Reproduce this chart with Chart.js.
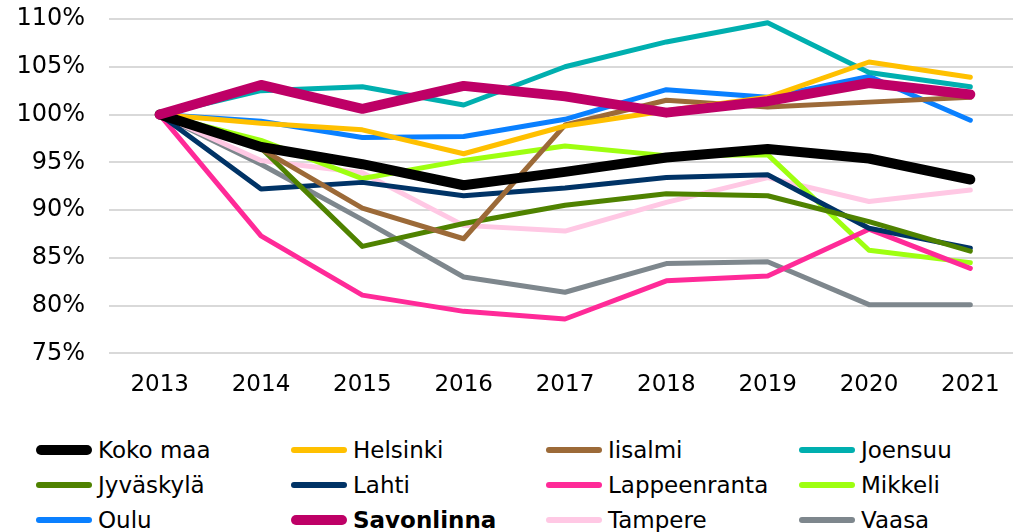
<!DOCTYPE html>
<html>
<head>
<meta charset="utf-8">
<script src="https://cdn.jsdelivr.net/npm/chart.js@4"></script>
<style>
    html, body { margin: 0; padding: 0; background: #fff; overflow: hidden; }
    #wrap { position: absolute; left: 0; top: 0; width: 1021px; height: 417px; }
    #legend { position: absolute; left: 0; top: 432px; width: 1013px; font-family: "DejaVu Sans", Verdana, sans-serif; font-size: 23px; color: #000; }
    .item { position: absolute; height: 35px; display: flex; align-items: center; white-space: nowrap; }
    .swatch { width: 56px; border-radius: 6px; margin-right: 6px; }
</style>
</head>
<body>
<div id="wrap"><canvas id="lineChart"></canvas></div>
<div id="legend"></div>
<script>
// Index of some price level, 2013 = 100 %

const years = ['2013', '2014', '2015', '2016', '2017', '2018', '2019', '2020', '2021'];

const kokoMaa      = [100, 96.6, 94.8, 92.6, 94.0, 95.5, 96.4, 95.4, 93.2];
const helsinki     = [100, 99.1, 98.4, 95.9, 98.8, 100.4, 101.8, 105.5, 103.9];
const iisalmi      = [100, 96.4, 90.2, 87.0, 98.9, 101.5, 100.8, 101.3, 101.8];
const joensuu      = [100, 102.5, 102.9, 101.0, 105.0, 107.6, 109.6, 104.4, 102.9];
const jyvaskyla    = [100, 96.5, 86.2, 88.6, 90.5, 91.7, 91.5, 88.8, 85.7];
const lahti        = [100, 92.2, 92.9, 91.5, 92.3, 93.4, 93.7, 88.1, 86.0];
const lappeenranta = [100, 87.3, 81.1, 79.4, 78.6, 82.6, 83.1, 88.0, 83.9];
const mikkeli      = [100, 97.3, 93.3, 95.2, 96.7, 95.7, 95.8, 85.8, 84.5];
const oulu         = [100, 99.3, 97.6, 97.7, 99.5, 102.6, 101.8, 104.0, 99.4];
const savonlinna   = [100, 103.1, 100.6, 103.0, 101.9, 100.2, 101.4, 103.3, 102.1];
const tampere      = [100, 95.2, 93.9, 88.4, 87.8, 90.8, 93.4, 90.9, 92.1];
const vaasa        = [100, 94.8, 89.0, 83.0, 81.4, 84.4, 84.6, 80.1, 80.1];

const seriesNames = ['Koko maa', 'Helsinki', 'Iisalmi', 'Joensuu', 'Jyväskylä', 'Lahti',
    'Lappeenranta', 'Mikkeli', 'Oulu', 'Savonlinna', 'Tampere', 'Vaasa'];
const seriesData = [kokoMaa, helsinki, iisalmi, joensuu, jyvaskyla, lahti,
    lappeenranta, mikkeli, oulu, savonlinna, tampere, vaasa];
const seriesColors = ['#000000', '#FFC000', '#9C6A38', '#00AFAF', '#4F8200', '#003366',
    '#FF2A98', '#9EFF10', '#0A80FF', '#BE0066', '#FFC8E4', '#7E878D'];

const yTicks = [75, 80, 85, 90, 95, 100, 105, 110];

document.addEventListener('DOMContentLoaded', function() {
    const ctx = document.getElementById('lineChart');

    const datasets = seriesNames.map(function(name, i) {
        const thick = name === 'Koko maa' || name === 'Savonlinna';
        return {
            label: name,
            data: seriesData[i],
            borderColor: seriesColors[i],
            backgroundColor: seriesColors[i],
            borderWidth: thick ? 10 : 5,
            borderCapStyle: 'round',
            borderJoinStyle: 'round',
            pointRadius: 0,
            tension: 0,
            fill: false,
            // lower order is drawn on top
            order: name === 'Savonlinna' ? -2 : (name === 'Koko maa' ? -1 : 0)
        };
    });

    new Chart(ctx.getContext('2d'), {
        type: 'line',
        data: { labels: years, datasets: datasets },
        options: {
            responsive: true,
            maintainAspectRatio: false,
            animation: false,
            layout: { padding: { top: 1, right: 0, bottom: 0, left: 0 } },
            scales: {
                x: {
                    offset: true,
                    grid: { display: false, drawTicks: false },
                    border: { display: false },
                    ticks: {
                        color: '#000',
                        padding: 18,
                        maxRotation: 0,
                        font: { family: 'DejaVu Sans', size: 23 }
                    }
                },
                y: {
                    min: 75,
                    max: 110,
                    afterBuildTicks: function(scale) {
                        scale.ticks = yTicks.map(function(v) { return { value: v }; });
                    },
                    afterFit: function(scale) {
                        scale.width = 109;
                        scale.paddingTop = 19;
                    },
                    grid: { color: '#D9D9D9', lineWidth: 2, drawTicks: false },
                    border: { display: false },
                    ticks: {
                        color: '#000',
                        padding: 24,
                        font: { family: 'DejaVu Sans', size: 24 },
                        callback: function(v) { return v + '%'; }
                    }
                }
            },
            plugins: {
                legend: { display: false },
                tooltip: { enabled: false }
            }
        }
    });

    // legend in a 4-column grid
    const legend = document.getElementById('legend');
    const colX = [36, 291, 546, 799];
    seriesNames.forEach(function(name, i) {
        const thick = name === 'Koko maa' || name === 'Savonlinna';
        const item = document.createElement('div');
        item.className = 'item';
        item.style.left = colX[i % 4] + 'px';
        item.style.top = (Math.floor(i / 4) * 35) + 'px';
        const sw = document.createElement('span');
        sw.className = 'swatch';
        sw.style.background = seriesColors[i];
        sw.style.height = (thick ? 10 : 6) + 'px';
        const txt = document.createElement('span');
        txt.textContent = name;
        if (name === 'Savonlinna') txt.style.fontWeight = 'bold';
        item.appendChild(sw);
        item.appendChild(txt);
        legend.appendChild(item);
    });
});
</script>
</body>
</html>
